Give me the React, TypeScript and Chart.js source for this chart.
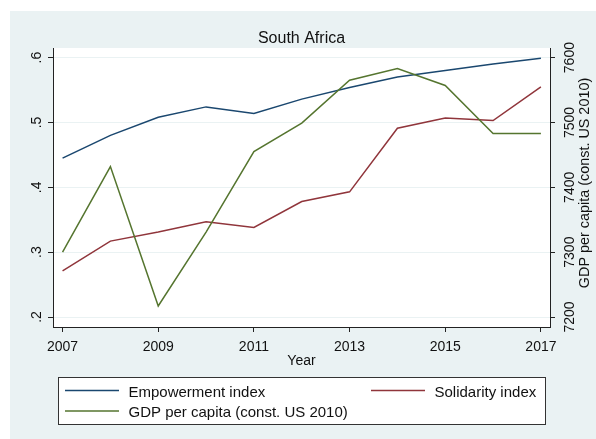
import React, { useEffect, useRef } from "react";
import { Chart, registerables } from "chart.js";

Chart.register(...registerables);

const W = 596;
const H = 439;

const YEARS = [2007, 2008, 2009, 2010, 2011, 2012, 2013, 2014, 2015, 2016, 2017];
const EMPOWERMENT = [0.445, 0.48, 0.508, 0.524, 0.514, 0.536, 0.554, 0.57, 0.58, 0.59, 0.599];
const SOLIDARITY = [0.271, 0.317, 0.331, 0.347, 0.338, 0.378, 0.393, 0.491, 0.507, 0.503, 0.555];
const GDP = [7300, 7432, 7217, 7331, 7455, 7499, 7565, 7583, 7557, 7483, 7483];

const X_TICKS = [2007, 2009, 2011, 2013, 2015, 2017];
const Y_TICKS = [0.2, 0.3, 0.4, 0.5, 0.6];
const Y_TICK_LABELS = [".2", ".3", ".4", ".5", ".6"];
const Y2_TICKS = [7200, 7300, 7400, 7500, 7600];

const TITLE = "South Africa";
const X_TITLE = "Year";
const Y2_TITLE = "GDP per capita (const. US 2010)";
const LABELS = ["Empowerment index", "Solidarity index", "GDP per capita (const. US 2010)"];

const BLUE = "#1a476f";
const RED = "#90353b";
const GREEN = "#55752f";
const BG = "#eaf2f3";
const AXIS = "#222222";
const TEXT = "#111111";
const FONT = "'Liberation Sans', Arial, Helvetica, sans-serif";

const decorPlugin = {
  id: "decor",
  beforeDraw(chart: any) {
    const { ctx, chartArea } = chart;
    ctx.save();
    ctx.fillStyle = "#ffffff";
    ctx.fillRect(0, 0, W, H);
    ctx.fillStyle = BG;
    ctx.fillRect(10, 11, W - 10, H - 11);
    ctx.fillStyle = "#ffffff";
    ctx.fillRect(chartArea.left, chartArea.top, chartArea.right - chartArea.left, chartArea.bottom - chartArea.top);
    ctx.restore();
  },
  afterDraw(chart: any) {
    const { ctx, chartArea, scales } = chart;
    ctx.save();
    ctx.fillStyle = TEXT;

    // Title
    ctx.font = `16px ${FONT}`;
    ctx.textAlign = "center";
    ctx.textBaseline = "alphabetic";
    ctx.fillText(TITLE, (chartArea.left + chartArea.right) / 2, 42.5);

    // X tick labels
    ctx.font = `14px ${FONT}`;
    X_TICKS.forEach((v) => {
      ctx.fillText(String(v), scales.x.getPixelForValue(v), 350.5);
    });
    // X title
    ctx.fillText(X_TITLE, (chartArea.left + chartArea.right) / 2, 365);

    // Left y tick labels (rotated)
    Y_TICKS.forEach((v, i) => {
      const y = scales.y.getPixelForValue(v);
      ctx.save();
      ctx.translate(41, y);
      ctx.rotate(-Math.PI / 2);
      ctx.textAlign = "center";
      ctx.fillText(Y_TICK_LABELS[i], 0, 0);
      ctx.restore();
    });

    // Right y tick labels (rotated)
    Y2_TICKS.forEach((v) => {
      const y = scales.y2.getPixelForValue(v);
      ctx.save();
      ctx.translate(573.5, y);
      ctx.rotate(-Math.PI / 2);
      ctx.textAlign = "center";
      ctx.fillText(String(v), 0, 0);
      ctx.restore();
    });

    // Right axis title
    ctx.save();
    ctx.font = `14.4px ${FONT}`;
    ctx.translate(588.5, 183);
    ctx.rotate(-Math.PI / 2);
    ctx.textAlign = "center";
    ctx.fillText(Y2_TITLE, 0, 0);
    ctx.restore();

    // Legend
    const lx = 58.5, ly = 377.5, lw = 487, lh = 47;
    ctx.fillStyle = "#ffffff";
    ctx.fillRect(lx, ly, lw, lh);
    ctx.strokeStyle = "#333333";
    ctx.lineWidth = 1;
    ctx.strokeRect(lx, ly, lw, lh);

    const entries = [
      { label: LABELS[0], color: BLUE, x0: 65, x1: 119, tx: 128.5, y: 390.5, by: 396.5 },
      { label: LABELS[1], color: RED, x0: 371, x1: 425, tx: 434.5, y: 390.5, by: 396.5 },
      { label: LABELS[2], color: GREEN, x0: 65, x1: 119, tx: 128.5, y: 411, by: 417 },
    ];
    ctx.font = `15px ${FONT}`;
    ctx.textAlign = "left";
    entries.forEach((e) => {
      ctx.strokeStyle = e.color;
      ctx.lineWidth = 1.5;
      ctx.beginPath();
      ctx.moveTo(e.x0, e.y);
      ctx.lineTo(e.x1, e.y);
      ctx.stroke();
      ctx.fillStyle = TEXT;
      ctx.fillText(e.label, e.tx, e.by);
    });

    ctx.restore();
  },
};

export default function App() {
  const ref = useRef<HTMLCanvasElement>(null);

  useEffect(() => {
    if (!ref.current) return;
    const chart = new Chart(ref.current, {
      type: "line",
      data: {
        datasets: [
          {
            label: LABELS[0],
            data: YEARS.map((x, i) => ({ x, y: EMPOWERMENT[i] })),
            borderColor: BLUE,
            borderWidth: 1.5,
            pointRadius: 0,
            yAxisID: "y",
            order: 3,
          },
          {
            label: LABELS[1],
            data: YEARS.map((x, i) => ({ x, y: SOLIDARITY[i] })),
            borderColor: RED,
            borderWidth: 1.5,
            pointRadius: 0,
            yAxisID: "y",
            order: 2,
          },
          {
            label: LABELS[2],
            data: YEARS.map((x, i) => ({ x, y: GDP[i] })),
            borderColor: GREEN,
            borderWidth: 1.5,
            pointRadius: 0,
            yAxisID: "y2",
            order: 1,
          },
        ],
      },
      options: {
        responsive: false,
        animation: false,
        devicePixelRatio: 1,
        layout: { padding: { top: 48, left: 0, right: 0, bottom: 0 } },
        plugins: {
          legend: { display: false },
          title: { display: false },
          tooltip: { enabled: false },
        },
        scales: {
          x: {
            type: "linear",
            min: 2006.8,
            max: 2017.19,
            ticks: { display: false },
            afterBuildTicks: (s: any) => {
              s.ticks = X_TICKS.map((v) => ({ value: v }));
            },
            afterFit: (s: any) => {
              s.height = 112;
            },
            grid: { drawOnChartArea: false, color: AXIS, tickColor: AXIS, tickLength: 5 },
            border: { display: true, color: AXIS, width: 1 },
          },
          y: {
            type: "linear",
            position: "left",
            min: 0.1846,
            max: 0.6148,
            ticks: { display: false },
            afterBuildTicks: (s: any) => {
              s.ticks = Y_TICKS.map((v) => ({ value: v }));
            },
            afterFit: (s: any) => {
              s.width = 53;
            },
            grid: { drawOnChartArea: true, color: BG, tickColor: AXIS, tickLength: 5, lineWidth: 1 },
            border: { display: true, color: AXIS, width: 1 },
          },
          y2: {
            type: "linear",
            position: "right",
            min: 7184.6,
            max: 7614.8,
            ticks: { display: false },
            afterBuildTicks: (s: any) => {
              s.ticks = Y2_TICKS.map((v) => ({ value: v }));
            },
            afterFit: (s: any) => {
              s.width = 46;
            },
            grid: { drawOnChartArea: false, color: AXIS, tickColor: AXIS, tickLength: 5 },
            border: { display: true, color: AXIS, width: 1 },
          },
        },
      },
      plugins: [decorPlugin],
    } as any);
    return () => chart.destroy();
  }, []);

  return (
    <div style={{ position: "fixed", left: 0, top: 0, width: W, height: H }}>
      <canvas ref={ref} width={W} height={H} style={{ display: "block", width: W, height: H }} />
    </div>
  );
}
